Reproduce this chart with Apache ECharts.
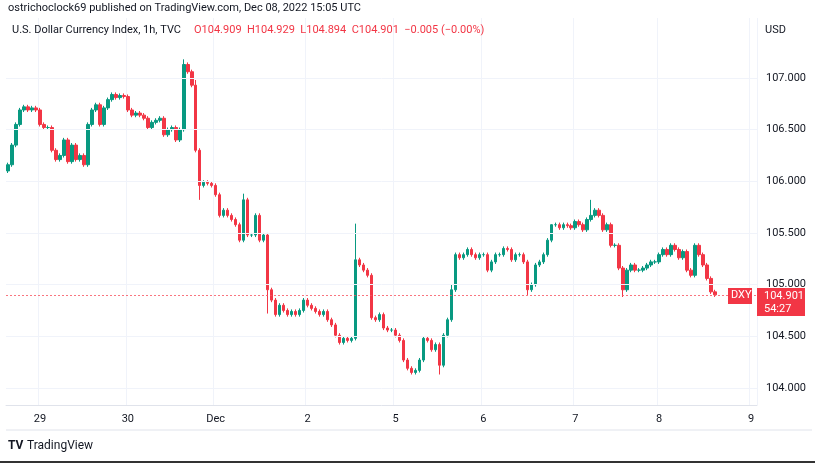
<!DOCTYPE html>
<html><head><meta charset="utf-8">
<script src="https://cdn.jsdelivr.net/npm/echarts@6/dist/echarts.min.js"></script>
<style>html,body{margin:0;padding:0;background:#fff}#c{width:815px;height:463px}</style>
</head><body><div id="c"></div>
<script>
// Hourly closes, DXY, Nov 28 evening -> Dec 8 15:00 UTC
const closes = [106.16,106.35,106.55,106.69,106.72,106.69,106.71,106.69,106.55,106.52,106.52,106.30,106.21,106.25,106.40,106.19,106.35,106.21,106.25,106.16,
106.55,106.69,106.74,106.55,106.71,106.79,106.84,106.81,106.83,106.82,106.69,106.64,106.66,106.64,106.61,106.52,106.57,106.59,106.61,106.45,
106.50,106.52,106.40,106.50,107.13,107.06,106.93,106.30,105.96,105.99,105.98,105.96,105.87,105.67,105.72,105.67,105.63,105.58,105.43,105.82,
105.48,105.48,105.67,105.43,105.48,104.95,104.85,104.71,104.80,104.75,104.71,104.74,104.71,104.75,104.85,104.80,104.77,104.74,104.71,104.74,
104.66,104.61,104.51,104.44,104.48,104.46,104.48,105.24,105.19,105.14,105.09,104.68,104.66,104.71,104.58,104.56,104.56,104.51,104.46,104.27,
104.19,104.15,104.17,104.27,104.48,104.46,104.37,104.42,104.22,104.51,104.66,104.95,105.29,105.26,105.29,105.34,105.29,105.26,105.29,105.29,
105.14,105.22,105.29,105.29,105.35,105.34,105.24,105.29,105.29,105.22,104.95,105.00,105.19,105.22,105.29,105.43,105.58,105.58,105.55,105.58,
105.57,105.55,105.61,105.58,105.53,105.63,105.67,105.72,105.67,105.53,105.58,105.38,105.38,105.16,104.95,105.14,105.19,105.14,105.14,105.16,
105.19,105.22,105.22,105.29,105.34,105.29,105.38,105.34,105.26,105.32,105.14,105.09,105.38,105.29,105.19,105.06,104.93,104.901];
const firstOpen = 106.10;
const highOverrides = {44:107.18, 45:107.15, 47:106.98, 59:105.88, 87:105.59, 111:105.0, 146:105.82, 136:105.45};
const lowOverrides = {48:105.82, 65:104.72, 108:104.13, 130:104.9, 154:104.88};
const dayLabels = {8:'29',30:'30',52:'Dec',75:'2',97:'5',119:'6',142:'7',163:'8',186:'9'};
const yTicks = [104.0,104.5,105.0,105.5,106.0,106.5,107.0];
const lastPrice = 104.901;
const TOTAL = 188;

const cats = [];
for (let i=0;i<TOTAL;i++) cats.push(String(i));
const ohlc = closes.map((c,i)=>{
  const o = i===0 ? firstOpen : closes[i-1];
  const hi = highOverrides[i] !== undefined ? highOverrides[i] : Math.max(o,c)+0.02;
  const lo = lowOverrides[i] !== undefined ? lowOverrides[i] : Math.min(o,c)-0.02;
  return [o,c,lo,hi];
});
const up='#089981', dn='#f23645';
const chart = echarts.init(document.getElementById('c'));
chart.setOption({
  animation:false,
  grid:{left:6,right:58,top:18,bottom:58},
  xAxis:{type:'category',data:cats,boundaryGap:true,
    axisLine:{show:true,lineStyle:{color:'#e0e3eb'}},axisTick:{show:false},
    axisLabel:{interval:(i)=>dayLabels[i]!==undefined,formatter:(v,i)=>dayLabels[i]||'',
      color:'#131722',fontSize:11,fontFamily:'Roboto',margin:9},
    splitLine:{show:true,interval:(i)=>dayLabels[i]!==undefined,lineStyle:{color:'#f0f3fa'}}},
  yAxis:{type:'value',position:'right',min:103.835,max:107.58,scale:true,
    axisLine:{show:false},
    axisTick:{show:false},
    splitLine:{show:false},
    axisLabel:{customValues:yTicks,formatter:v=>v.toFixed(3),color:'#131722',fontSize:11,fontFamily:'Roboto',margin:9,align:'left'}},
  series:[{type:'candlestick',data:ohlc,barWidth:3,
    itemStyle:{color:up,color0:dn,borderColor:up,borderColor0:dn,borderWidth:1},
    markLine:{silent:true,symbol:'none',label:{show:false},
      data:yTicks.map(v=>({yAxis:v,lineStyle:{color:'#f0f3fa',type:'solid',width:1}}))
        .concat([{yAxis:lastPrice,lineStyle:{color:'#f7525f',type:[2,2],width:1,opacity:0.8}}])}
  }],
  graphic:[
    {type:'text',z:100,left:8,top:3,style:{text:'ostrichoclock69 published on TradingView.com, Dec 08, 2022 15:05 UTC',fill:'#131722',font:'11px Roboto'}},
    {type:'text',z:100,left:12,top:25,style:{text:'U.S. Dollar Currency Index, 1h, TVC',fill:'#131722',font:'11px Roboto'}},
    {type:'text',z:100,left:194,top:25,style:{text:'O104.909  H104.929  L104.894  C104.901  −0.005 (−0.00%)',fill:dn,font:'11px Roboto'}},
    {type:'text',z:100,left:765,top:25,style:{text:'USD',fill:'#131722',font:'11px Roboto'}},
    {type:'rect',z:100,shape:{x:728,y:288,width:24,height:16},style:{fill:dn}},
    {type:'text',z:101,left:731,top:290,style:{text:'DXY',fill:'#fff',font:'11px Roboto'}},
    {type:'rect',z:100,shape:{x:757,y:288,width:48,height:28},style:{fill:dn}},
    {type:'text',z:101,left:764,top:290,style:{text:'104.901\n54:27',fill:'#fff',font:'11px Roboto',lineHeight:13}},
    {type:'line',z:100,shape:{x1:6,y1:430,x2:812,y2:430},style:{stroke:'#e0e3eb'}},
    {type:'line',z:100,shape:{x1:0,y1:462,x2:815,y2:462},style:{stroke:'#333',lineWidth:2}},
    {type:'text',z:100,left:8,top:440,style:{text:'TV',fill:'#131722',font:'bold 12px Roboto'}},
    {type:'text',z:100,left:27,top:440,style:{text:'TradingView',fill:'#131722',font:'12px Roboto'}}
  ]
});
</script></body></html>
